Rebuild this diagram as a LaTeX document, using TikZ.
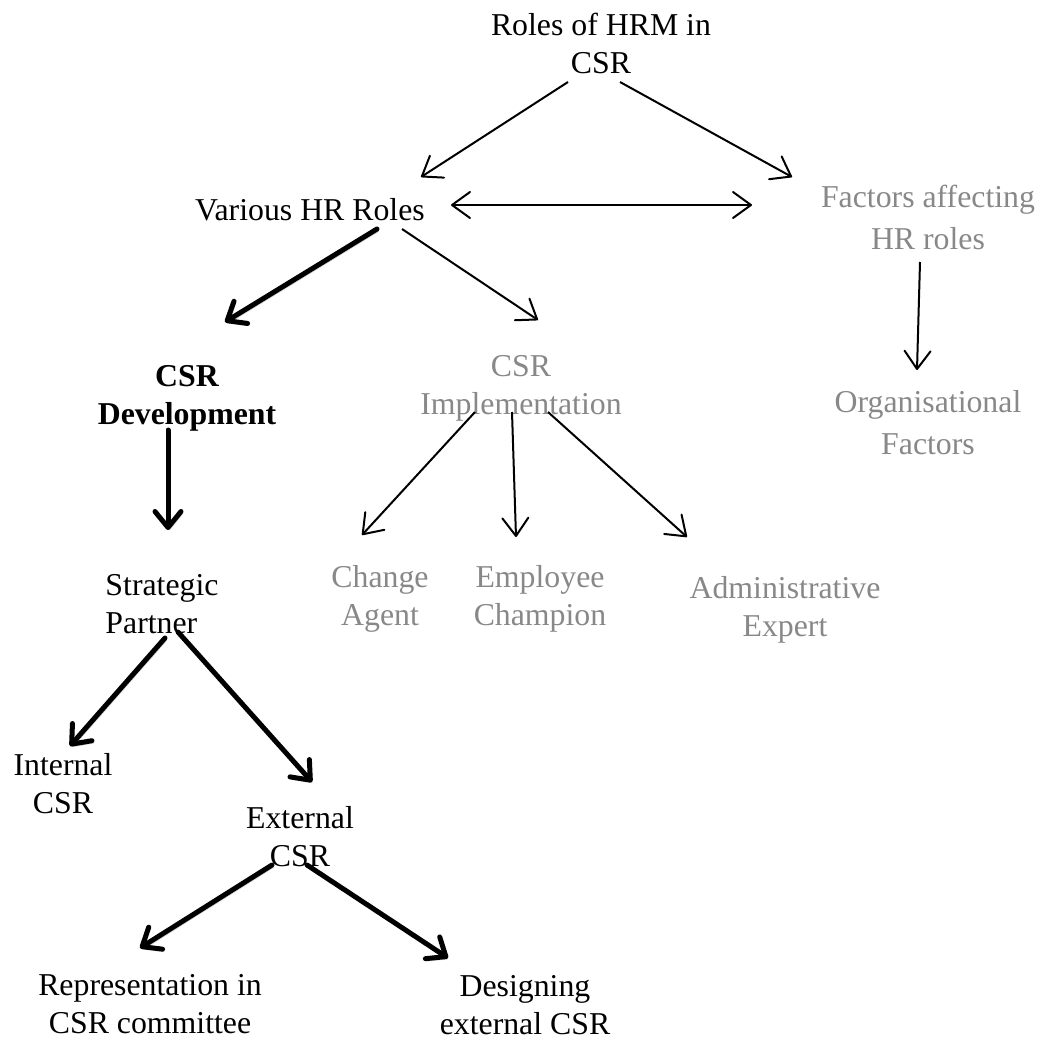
\documentclass[tikz,border=0pt]{standalone}
\usepackage{fontspec}
\setmainfont{Liberation Serif}
\usetikzlibrary{arrows.meta,calc}
\definecolor{soft}{RGB}{136,136,136}
\begin{document}
\begin{tikzpicture}[x=0.5pt,y=-0.5pt,
  lbl/.style={font=\fontsize{15.9}{19}\selectfont, align=center, inner sep=0pt},
  muted/.style={lbl, text=soft},
  lnk/.style={line width=1pt, -{Straight Barb[length=9pt,width=13pt,round]}},
  lnkboth/.style={line width=1pt, {Straight Barb[length=9pt,width=13pt,round]}-{Straight Barb[length=9pt,width=13pt,round]}},
  heavy/.style={line width=2.5pt, line cap=round, -{Straight Barb[length=8pt,width=13pt,round]},
    preaction={draw=black!40, opacity=0.45, transform canvas={shift={(0.8pt,-1.2pt)}}}},
]
\useasboundingbox (0,0) rectangle (1044,1039);

% labels
\node[lbl] (roles) at (601,43) {Roles of HRM in\\CSR};
\node[lbl] (various) at (310,210) {Various HR Roles};
\node[muted, font=\fontsize{15.9}{21}\selectfont] (factors) at (928,217) {Factors affecting\\HR roles};
\node[lbl, font=\fontsize{15.9}{19}\selectfont\bfseries] (dev) at (187,398) {CSR\\Development};
\node[muted] (impl) at (521,388) {CSR\\Implementation};
\node[muted, font=\fontsize{15.9}{21}\selectfont] (org) at (928,423) {Organisational\\Factors};
\node[lbl, align=left] (strat) at (162,604) {Strategic\\Partner};
\node[muted] (change) at (380,599) {Change\\Agent};
\node[muted] (employee) at (540,599) {Employee\\Champion};
\node[muted] (admin) at (785,610) {Administrative\\Expert};
\node[lbl] (internal) at (63,784) {Internal\\CSR};
\node[lbl] (external) at (300,837) {External\\CSR};
\node[lbl] (repr) at (150,1004) {Representation in\\CSR committee};
\node[lbl] (design) at (525,1005) {Designing\\external CSR};

% thin connectors
\draw[lnk] ($(roles)+(-33,39)$) -- ($(various)+(111,-33)$);
\draw[lnk] ($(roles)+(19,39)$) -- ($(factors)+(-136,-40)$);
\draw[lnkboth] ($(various)+(141,-5)$) -- ($(factors)+(-176,-12)$);
\draw[lnk] ($(various)+(92,19)$) -- ($(impl)+(17,-68)$);
\draw[lnk] ($(factors)+(-8,45)$) -- ($(org)+(-11,-53)$);
\draw[lnk] ($(impl)+(-46,24)$) -- ($(change)+(-18,-64)$);
\draw[lnk] ($(impl)+(-9,24)$) -- ($(employee)+(-24,-62)$);
\draw[lnk] ($(impl)+(27,24)$) -- ($(admin)+(-98,-73)$);

% heavy connectors
\draw[heavy] ($(various)+(67,19)$) -- ($(dev)+(38,-76)$);
\draw[heavy] ($(dev)+(-19,32)$) -- ($(strat)+(6,-74)$);
\draw[heavy] ($(strat)+(3,34)$) -- ($(internal)+(7,-38)$);
\draw[heavy] ($(strat)+(16,28)$) -- ($(external)+(12,-55)$);
\draw[heavy] ($(external)+(-28,28)$) -- ($(repr)+(-10,-56)$);
\draw[heavy] ($(external)+(7,28)$) -- ($(design)+(-77,-47)$);
\end{tikzpicture}
\end{document}
